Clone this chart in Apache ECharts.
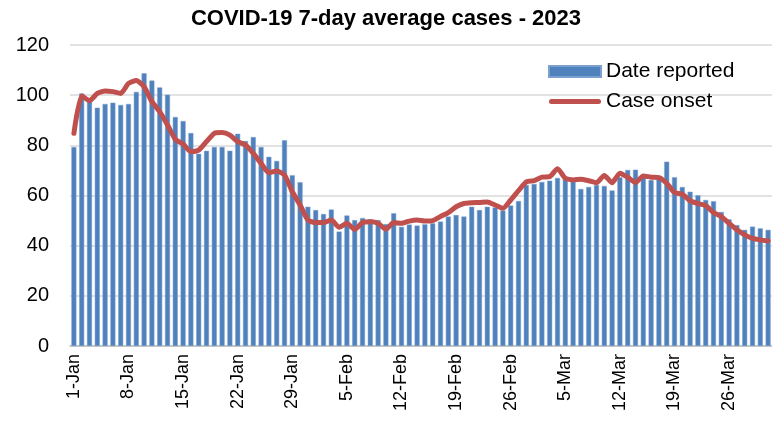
<!DOCTYPE html>
<html>
<head>
<meta charset="utf-8">
<script src="https://cdn.jsdelivr.net/npm/echarts@6/dist/echarts.min.js"></script>
<style>html,body{margin:0;padding:0;background:#fff}#c{width:772px;height:422px}</style>
</head>
<body>
<div id="c"></div>
<script>
// Category labels: daily dates 1-Jan .. 31-Mar 2023
const months = ['Jan', 'Feb', 'Mar'];
const monthDays = [31, 28, 31];
const categories = [];
months.forEach((m, i) => { for (let d = 1; d <= monthDays[i]; d++) categories.push(d + '-' + m); });

// Date reported (bars)
const dateReported = [
  79.3, 100.7, 98.0, 95.0, 96.5, 97.0, 96.1, 96.5, 101.3, 108.7,
  105.8, 103.1, 100.2, 91.3, 89.7, 84.9, 76.6, 77.8, 79.3, 79.3,
  77.8, 84.6, 81.7, 83.3, 79.3, 75.4, 73.8, 82.0, 68.1, 65.3,
  55.5, 54.2, 52.6, 54.4, 45.6, 52.0, 50.2, 51.0, 50.5, 50.2,
  48.6, 52.9, 47.5, 48.4, 48.0, 48.5, 48.9, 49.6, 51.6, 52.2,
  51.6, 55.5, 54.2, 55.5, 55.2, 54.0, 56.0, 57.8, 64.2, 64.6,
  65.4, 65.9, 67.0, 66.5, 66.6, 62.6, 63.4, 64.2, 63.8, 62.0,
  67.3, 70.2, 70.3, 68.2, 66.2, 67.5, 73.5, 67.3, 63.4, 61.5,
  60.1, 58.2, 57.7, 53.4, 50.5, 48.2, 46.3, 47.6, 46.9, 46.3
];

// Case onset (line)
const caseOnset = [
  84.8, 99.7, 97.8, 100.7, 101.7, 101.4, 100.7, 104.7, 105.8, 103.4,
  97.4, 93.4, 88.1, 82.4, 80.5, 77.5, 78.1, 81.5, 84.8, 85.1,
  84.1, 81.5, 80.1, 76.8, 72.8, 69.1, 69.8, 68.2, 61.5, 56.2,
  50.2, 49.2, 49.2, 50.2, 47.3, 48.9, 46.5, 49.2, 49.5, 48.9,
  46.5, 49.2, 48.9, 49.8, 50.2, 49.8, 50.0, 51.6, 53.2, 55.5,
  56.8, 57.1, 57.2, 57.4, 56.2, 54.9, 58.2, 61.9, 65.4, 65.9,
  67.3, 67.5, 70.7, 66.9, 66.2, 66.5, 65.9, 65.1, 68.0, 65.1,
  68.9, 67.3, 65.1, 67.8, 67.3, 67.1, 64.9, 61.2, 60.5, 57.9,
  56.8, 56.0, 53.2, 51.6, 48.9, 46.3, 44.3, 42.9, 42.3, 41.9
];

const yTicks = [0, 20, 40, 60, 80, 100, 120];

const FONT = "'Liberation Sans', Arial, sans-serif";
const chart = echarts.init(document.getElementById('c'));
chart.setOption({
  animation: false,
  backgroundColor: '#fff',
  title: {
    text: 'COVID-19 7-day average cases - 2023',
    left: 'center', top: 3,
    textStyle: { fontFamily: FONT, fontSize: 22, fontWeight: 'bold', color: '#000' }
  },
  legend: {
    orient: 'vertical', left: 543, top: 56, itemGap: 9,
    itemWidth: 52, itemHeight: 11, symbolKeepAspect: true,
    textStyle: { fontFamily: FONT, fontSize: 21, color: '#000' },
    data: [
      { name: 'Date reported', icon: 'rect' },
      { name: 'Case onset', icon: 'path://M2.5,0 L49.5,0 A2.5,2.5 0 0 1 49.5,5 L2.5,5 A2.5,2.5 0 0 1 2.5,0 Z',
        itemStyle: { color: '#C0504D' } }
    ]
  },
  grid: { left: 70, top: 45, height: 301, width: 707, containLabel: false },
  xAxis: {
    type: 'category', data: categories, boundaryGap: true,
    axisLine: { lineStyle: { color: '#bfbfbf', width: 1.5 } },
    axisTick: { interval: 6, length: 6, lineStyle: { color: '#bfbfbf', width: 1.5 } },
    axisLabel: { interval: 6, rotate: 90, fontFamily: FONT, fontSize: 18, color: '#000', margin: 8 }
  },
  yAxis: {
    type: 'value', min: yTicks[0], max: yTicks[yTicks.length - 1], interval: 20,
    axisLine: { show: false }, axisTick: { show: false },
    axisLabel: { fontFamily: FONT, fontSize: 20, color: '#000', margin: 21 },
    splitLine: { lineStyle: { color: '#d9d9d9', width: 1.5 } }
  },
  series: [
    {
      name: 'Date reported', type: 'bar', data: dateReported,
      barWidth: '64%',
      itemStyle: { color: '#4F81BD', borderColor: '#7aa0cf', borderWidth: 0.5 }
    },
    {
      name: 'Case onset', type: 'line', data: caseOnset,
      symbol: 'none', smooth: 0.2, z: 5,
      lineStyle: { color: '#C0504D', width: 5, cap: 'round', join: 'round' },
      itemStyle: { color: '#C0504D' }
    }
  ]
});
</script>
</body>
</html>
